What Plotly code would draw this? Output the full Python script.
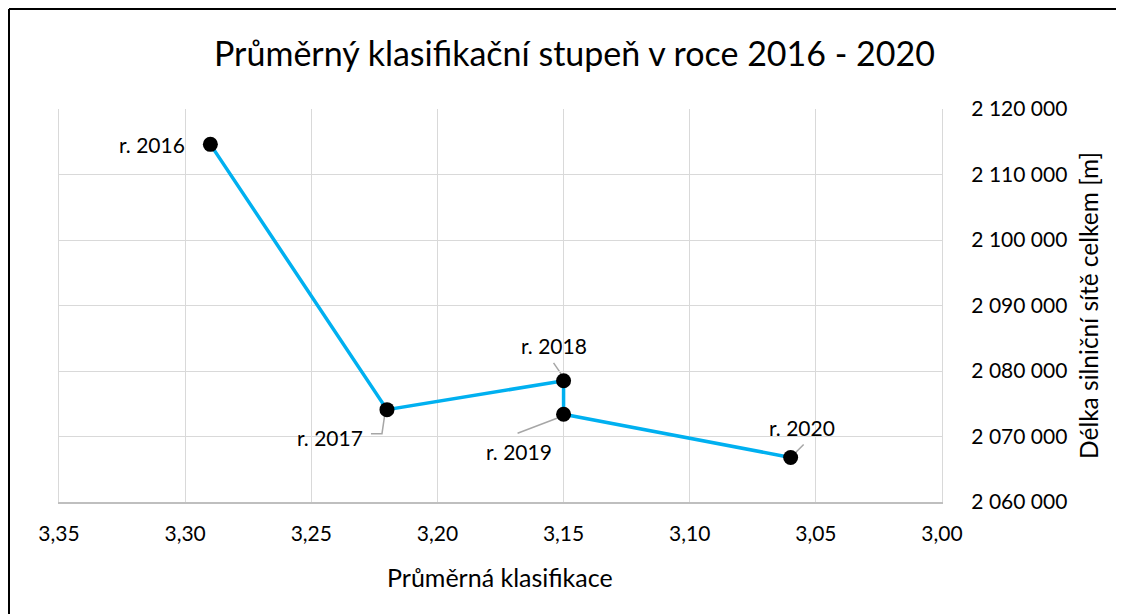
import plotly.graph_objects as go

years = ["r. 2016", "r. 2017", "r. 2018", "r. 2019", "r. 2020"]
avg_class = [3.29, 3.22, 3.15, 3.15, 3.06]
road_length = [2114600, 2074100, 2078500, 2073400, 2066800]

x_ticks = [3.35, 3.30, 3.25, 3.20, 3.15, 3.10, 3.05, 3.00]
y_ticks = [2060000, 2070000, 2080000, 2090000, 2100000, 2110000, 2120000]

title_text = "Průměrný klasifikační stupeň v roce 2016 - 2020"
x_title = "Průměrná klasifikace"
y_title = "Délka silniční sítě celkem [m]"

# label placement (pixel offsets from each point)
label_anchor = ["right", "right", "center", "center", "center"]
label_dx = [-23, -22, -10, -45, 11]
label_dy = [0, -28, 35, -37, 30]
# leader line paths (pixel offsets from each point, y up)
leader_paths = [None,
                "M-16,-24 L-5,-24 L-2.5,-7",
                "M-10,18 L-2.5,7",
                "M-46,-19 L-4,-3",
                "M13,13 L3,3"]

FONT = "Lato"
OFF = 8  # page body margin
W, H = 1124 - OFF, 614 - OFF
# plot area in screen pixels (reference)
PX0, PX1, PY0, PY1 = 59, 942, 109, 502
L, T = PX0 - OFF, PY0 - OFF
R, B = W - (PX1 - OFF), H - (PY1 - OFF)

fig = go.Figure()
fig.add_trace(go.Scatter(
    x=avg_class, y=road_length, mode="lines+markers",
    line=dict(color="#00b0f0", width=3.5),
    marker=dict(color="black", size=15),
    showlegend=False, hoverinfo="skip", cliponaxis=False,
))

for i, name in enumerate(years):
    fig.add_annotation(x=avg_class[i], y=road_length[i], text=name,
                       showarrow=False, xanchor=label_anchor[i], yanchor="middle",
                       xshift=label_dx[i], yshift=label_dy[i],
                       font=dict(family=FONT, size=21, color="black"))
    if leader_paths[i]:
        fig.add_shape(type="path", xref="x", yref="y",
                      xsizemode="pixel", ysizemode="pixel",
                      xanchor=avg_class[i], yanchor=road_length[i],
                      path=leader_paths[i],
                      line=dict(color="#a6a6a6", width=1.5), layer="below")

pw, ph = PX1 - PX0, PY1 - PY0
def px2paper_x(px):
    return (px - PX0) / pw
def px2paper_y(py):
    return (PY1 - py) / ph

# outer frame (top and left edges visible)
fig.add_shape(type="line", xref="paper", yref="paper",
              x0=px2paper_x(9), x1=px2paper_x(1140), y0=px2paper_y(9), y1=px2paper_y(9),
              line=dict(color="black", width=2))
fig.add_shape(type="line", xref="paper", yref="paper",
              x0=px2paper_x(9), x1=px2paper_x(9), y0=px2paper_y(9), y1=px2paper_y(630),
              line=dict(color="black", width=2))

fig.add_annotation(xref="paper", yref="paper", x=px2paper_x(574), y=px2paper_y(52),
                   text=title_text, showarrow=False, xanchor="center", yanchor="middle",
                   font=dict(family=FONT, size=34, color="black"))
fig.add_annotation(xref="paper", yref="paper", x=px2paper_x(500), y=px2paper_y(577),
                   text=x_title, showarrow=False, xanchor="center", yanchor="middle",
                   font=dict(family=FONT, size=25, color="black"))
fig.add_annotation(xref="paper", yref="paper", x=px2paper_x(1088), y=px2paper_y(306),
                   text=y_title, showarrow=False, xanchor="center", yanchor="middle",
                   textangle=-90,
                   font=dict(family=FONT, size=24.5, color="black"))

fig.update_layout(
    width=W, height=H,
    margin=dict(l=L, r=R, t=T, b=B),
    paper_bgcolor="white", plot_bgcolor="white",
    separators=", ",
    font=dict(family=FONT, size=21, color="black"),
    xaxis=dict(range=[x_ticks[0], x_ticks[-1]], tickvals=x_ticks, tickformat=".2f",
               showgrid=True, gridcolor="#d9d9d9", gridwidth=1.3,
               showline=True, linecolor="#bfbfbf", linewidth=1.5,
               zeroline=False, ticks="", ticklabelstandoff=12,
               tickfont=dict(family=FONT, size=21, color="black")),
    yaxis=dict(range=[y_ticks[0], y_ticks[-1]], tickvals=y_ticks, tickformat=",d",
               side="right", showgrid=True, gridcolor="#d9d9d9", gridwidth=1.3,
               showline=True, linecolor="#d9d9d9", linewidth=1.3, mirror=True,
               zeroline=False, ticks="", ticklabelstandoff=24,
               tickfont=dict(family=FONT, size=21, color="black")),
)

fig.write_html("out.html")
